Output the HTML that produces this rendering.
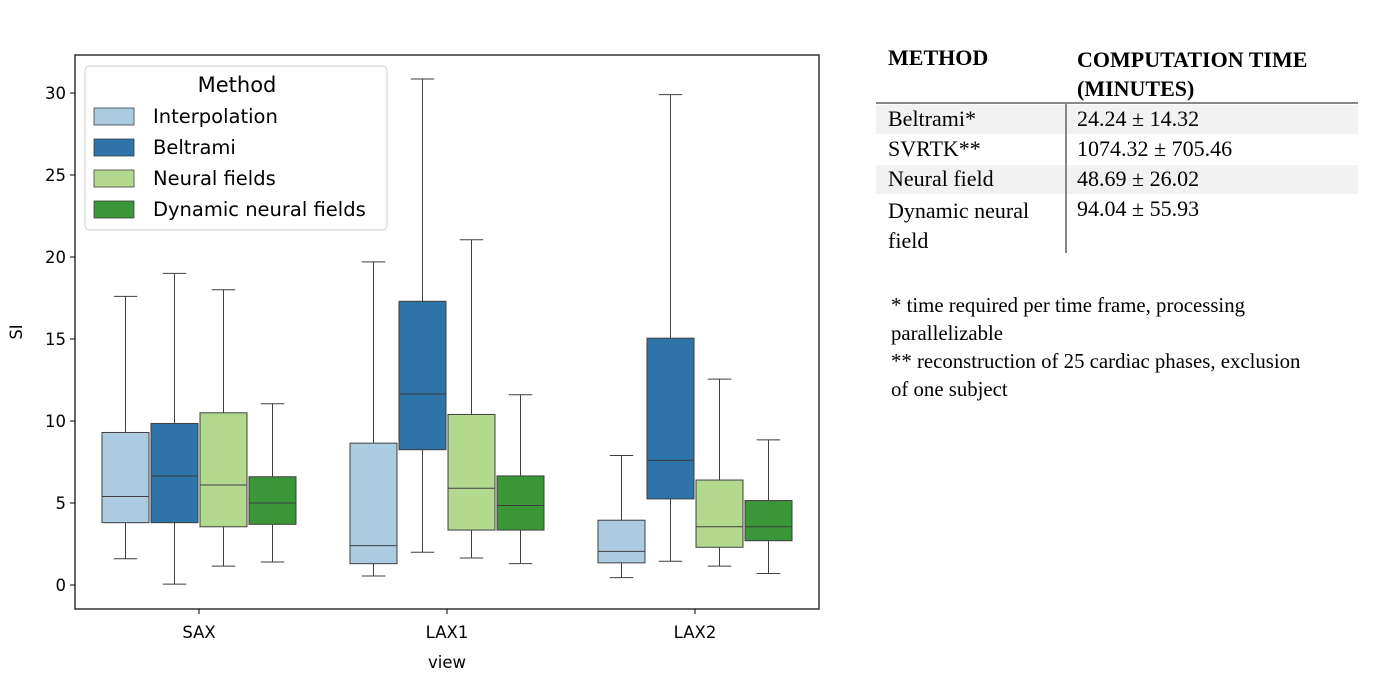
<!DOCTYPE html>
<html><head><meta charset="utf-8"><style>
body{margin:0;background:#fff;width:1392px;height:691px;overflow:hidden;position:relative;font-family:"DejaVu Sans","Liberation Sans",sans-serif}
svg{position:absolute;left:0;top:0;font-family:"DejaVu Sans","Liberation Sans",sans-serif}
.tb{position:absolute;left:0;top:0;font-family:"Liberation Serif",serif;font-size:22px;color:#000}
.tb div{white-space:nowrap}
</style></head><body>
<svg id="chart" width="870" height="691"></svg>
<div class="tb">
 <div style="position:absolute;left:876px;top:105px;width:482px;height:29px;background:#f2f2f2"></div>
 <div style="position:absolute;left:876px;top:165px;width:482px;height:29px;background:#f2f2f2"></div>
 <div style="position:absolute;left:876px;top:102px;width:482px;height:2px;background:#888"></div>
 <div style="position:absolute;left:1065px;top:104px;width:1.5px;height:149px;background:#888"></div>
 <div style="position:absolute;left:888px;top:45px;font-weight:bold">METHOD</div>
 <div style="position:absolute;left:1077px;top:45px;font-weight:bold;line-height:29px">COMPUTATION TIME<br>(MINUTES)</div>
 <div style="position:absolute;left:888px;top:106px">Beltrami*</div>
 <div style="position:absolute;left:1077px;top:106px">24.24 ± 14.32</div>
 <div style="position:absolute;left:888px;top:136px">SVRTK**</div>
 <div style="position:absolute;left:1077px;top:136px">1074.32 ± 705.46</div>
 <div style="position:absolute;left:888px;top:166px">Neural field</div>
 <div style="position:absolute;left:1077px;top:166px">48.69 ± 26.02</div>
 <div style="position:absolute;left:888px;top:196px;line-height:30px">Dynamic neural<br>field</div>
 <div style="position:absolute;left:1077px;top:196px">94.04 ± 55.93</div>
 <div style="position:absolute;left:891px;top:292px;font-size:20.8px;line-height:28px">* time required per time frame, processing<br>parallelizable<br>** reconstruction of 25 cardiac phases, exclusion<br>of one subject</div>
</div>
<script>
const categories=["SAX","LAX1","LAX2"];
const methods=["Interpolation","Beltrami","Neural fields","Dynamic neural fields"];
const colors=["#abcbe0","#2e74a8","#b3d98f","#3a9638"];
const yTicks=[0,5,10,15,20,25,30];
// [low, q1, median, q3, high] per category per method
const interpStats=[[1.6,3.8,5.4,9.3,17.6],[0.55,1.3,2.4,8.65,19.7],[0.45,1.35,2.05,3.95,7.9]];
const beltramiStats=[[0.05,3.8,6.65,9.85,19.0],[2.0,8.25,11.65,17.3,30.85],[1.45,5.25,7.6,15.05,29.9]];
const neuralStats=[[1.15,3.55,6.1,10.5,18.0],[1.65,3.35,5.9,10.4,21.05],[1.15,2.3,3.55,6.4,12.55]];
const dynamicStats=[[1.4,3.7,5.0,6.6,11.05],[1.3,3.35,4.85,6.65,11.6],[0.7,2.7,3.55,5.15,8.85]];
const allStats=[interpStats,beltramiStats,neuralStats,dynamicStats];

const svg=document.getElementById('chart');const NS="http://www.w3.org/2000/svg";
function mk(t,a,p){const e=document.createElementNS(NS,t);for(const k in a)e.setAttribute(k,a[k]);(p||svg).appendChild(e);return e;}
const y=v=>585-v*16.4;
const x=i=>199+i*248;
const bw=47, off=[-73.5,-24.5,24.5,73.5];
for(const t of yTicks){
 let l=mk('line',{x1:70,x2:75,y1:y(t),y2:y(t),stroke:'#000'});
 
 let tx=mk('text',{x:66,y:y(t)+6,'text-anchor':'end','font-size':16.5});tx.textContent=t;
 
}
categories.forEach((c,i)=>{
 let l=mk('line',{x1:x(i),x2:x(i),y1:609,y2:614,stroke:'#000'});
 
 let tx=mk('text',{x:x(i),y:638,'text-anchor':'middle','font-size':16.5});tx.textContent=c;
 
 allStats.forEach((ms,m)=>{
  const s=ms[i],cx=x(i)+off[m];
  const g=mk('g',{});
  
  
  mk('line',{x1:cx,x2:cx,y1:y(s[0]),y2:y(s[1]),stroke:'#3f3f3f','stroke-width':1},g);
  mk('line',{x1:cx,x2:cx,y1:y(s[3]),y2:y(s[4]),stroke:'#3f3f3f','stroke-width':1},g);
  mk('line',{x1:cx-bw/4,x2:cx+bw/4,y1:y(s[0]),y2:y(s[0]),stroke:'#3f3f3f'},g);
  mk('line',{x1:cx-bw/4,x2:cx+bw/4,y1:y(s[4]),y2:y(s[4]),stroke:'#3f3f3f'},g);
  mk('rect',{x:cx-bw/2,y:y(s[3]),width:bw,height:y(s[1])-y(s[3]),fill:colors[m],stroke:'#3f3f3f','stroke-width':1},g);
  mk('line',{x1:cx-bw/2,x2:cx+bw/2,y1:y(s[2]),y2:y(s[2]),stroke:'#3f3f3f'},g);
 });
});
let fr=mk('rect',{x:75,y:55,width:744,height:554,fill:'none',stroke:'#000','stroke-width':1.2});

let xl=mk('text',{x:447,y:668,'text-anchor':'middle','font-size':16.5});xl.textContent='view';

let yl=mk('text',{x:22,y:332,'text-anchor':'middle','font-size':16.5,transform:'rotate(-90 22 332)'});yl.textContent='SI';

const lg=mk('g',{});

mk('rect',{x:85,y:66,width:302,height:164,rx:4,fill:'#fff','fill-opacity':0.85,stroke:'#ccc'},lg);
let lt=mk('text',{x:237,y:92,'text-anchor':'middle','font-size':21},lg);lt.textContent='Method';
methods.forEach((m,k)=>{
 const yy=108+k*31;
 let r=mk('rect',{x:94,y:yy,width:40,height:17,fill:colors[k],stroke:'#3f3f3f','stroke-width':0.8},lg);
 
 let t=mk('text',{x:153,y:yy+15,'font-size':19.5},lg);t.textContent=m;
 
});
</script>
</body></html>
